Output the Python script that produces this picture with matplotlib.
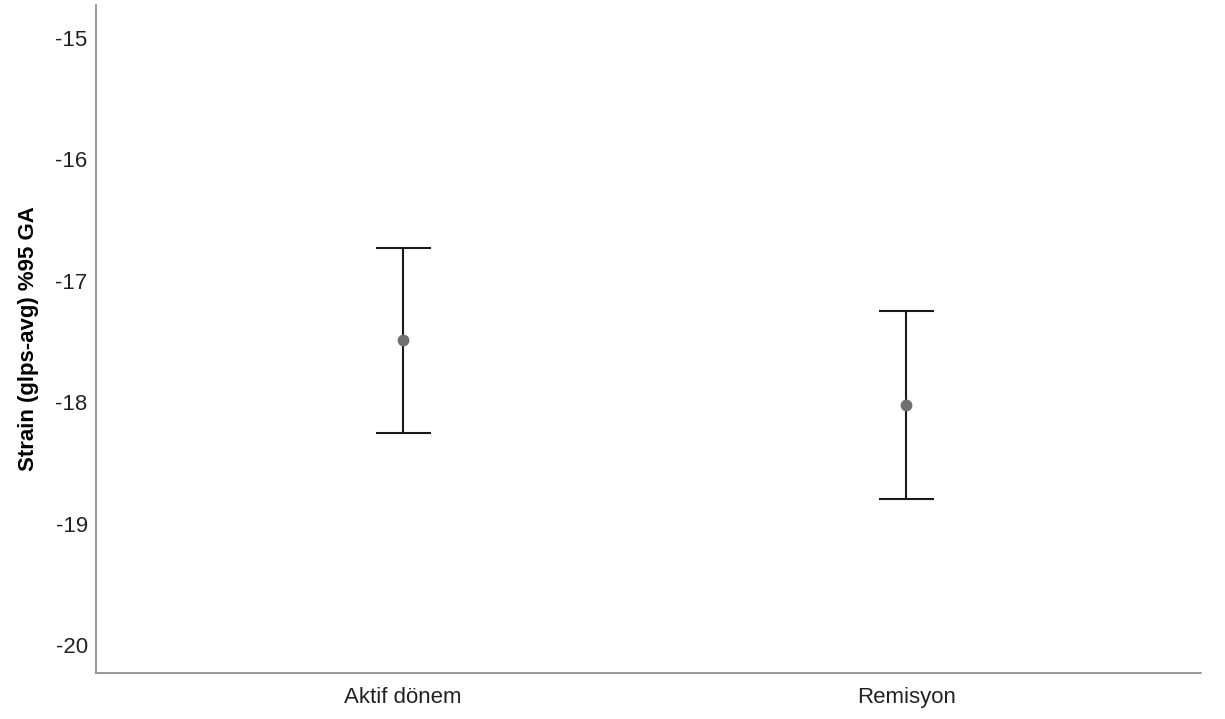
import matplotlib
matplotlib.use("Agg")
import matplotlib.pyplot as plt
import numpy as np

categories = ["Aktif dönem", "Remisyon"]
means = [-17.49, -18.02]
upper = [-16.73, -17.25]
lower = [-18.25, -18.80]
yticks = [-15, -16, -17, -18, -19, -20]

plt.rcParams['font.family'] = ['Arial', 'Liberation Sans', 'DejaVu Sans']

fig = plt.figure(figsize=(12.25, 7.19), dpi=100)
ax = fig.add_axes([0.0784, 0.064, 0.9016, 0.929])

x = np.arange(len(categories))
m = np.array(means)
yerr = np.vstack([m - np.array(lower), np.array(upper) - m])
ax.errorbar(x, m, yerr=yerr, fmt='none', ecolor='#1a1a1a', elinewidth=1.5,
            capsize=19.8, capthick=1.5, zorder=2)
ax.plot(x, m, 'o', color='#707070', markersize=7.5, zorder=3)

ax.set_xlim(-0.61, 1.585)
ax.set_ylim(-20.23, -14.73)
ax.set_yticks(yticks)
ax.set_yticklabels([str(t) for t in yticks])
ax.set_xticks(x)
ax.set_xticklabels(categories)
ax.tick_params(axis='both', length=0, labelsize=16, colors='#222222', pad=6)
ax.tick_params(axis='x', pad=10)
for s in ['top', 'right']:
    ax.spines[s].set_visible(False)
for s in ['left', 'bottom']:
    ax.spines[s].set_color('#888888')
    ax.spines[s].set_linewidth(1.2)
ax.set_ylabel("Strain (glps-avg) %95 GA", fontsize=16, fontweight='bold', labelpad=12)

fig.savefig("out.png", dpi=100)
